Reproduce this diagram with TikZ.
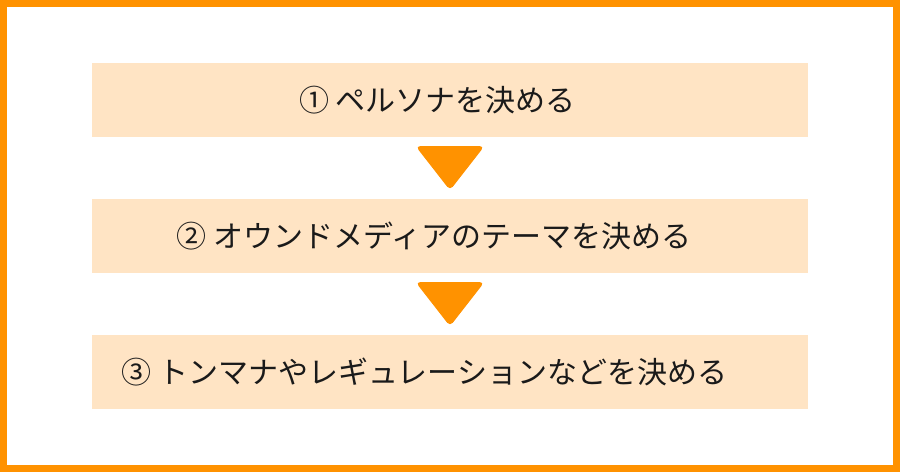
\documentclass[tikz,border=0pt]{standalone}
\usepackage{fontspec}
\newfontfamily\jp{Noto Sans CJK JP}
\definecolor{frameorange}{RGB}{255,146,0}
\definecolor{peach}{RGB}{255,228,196}
\definecolor{txt}{RGB}{26,26,26}
\tikzset{
  stepbox/.style={fill=peach, draw=none, minimum width=716pt, minimum height=74pt, inner sep=0pt},
  steplabel/.style={anchor=west, inner sep=0pt, text=txt, font=\jp\fontsize{30pt}{36pt}\selectfont},
  arrowtri/.style={fill=frameorange, draw=frameorange, line width=1pt, rounded corners=4pt},
}
\begin{document}
\begin{tikzpicture}[x=1pt,y=-1pt]
\useasboundingbox (0,0) rectangle (900,472);
\fill[frameorange] (0,0) rectangle (900,472);
\fill[white] (7,7) rectangle (893,465);
\node[stepbox] (b1) at (450,100) {};
\node[stepbox] (b2) at (450,236) {};
\node[stepbox] (b3) at (450,372) {};
\node[steplabel] (t1) at (299,100) {①\ ペルソナを決める};
\node[steplabel] (t2) at (176.5,236) {②\ オウンドメディアのテーマを決める};
\node[steplabel] (t3) at (121.5,372) {③\ トンマナやレギュレーションなどを決める};
\draw[arrowtri] (416.5,146.5) -- (483.5,146.5) -- (450,189.5) -- cycle;
\draw[arrowtri] (416.5,282.5) -- (483.5,282.5) -- (450,325.5) -- cycle;
\end{tikzpicture}
\end{document}
